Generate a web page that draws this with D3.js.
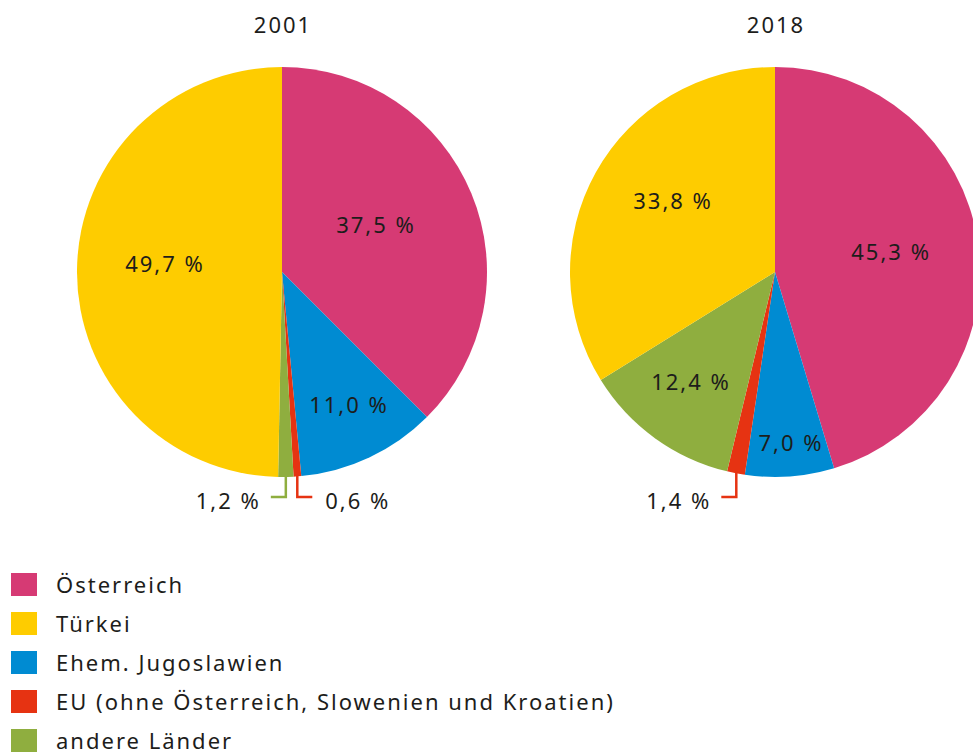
<!DOCTYPE html>
<html lang="de">
<head>
<meta charset="UTF-8">
<script src="https://d3js.org/d3.v7.min.js"></script>
<title>Herkunft 2001 / 2018</title>
<style>
  body { margin: 0; background: #fff; }
  text { font-family: "Noto Sans", sans-serif; fill: #1d1d1b; letter-spacing: 2px; }
</style>
</head>
<body>
<div id="chart"></div>
<script>
// data
const categories = ["Österreich", "Türkei", "Ehem. Jugoslawien",
  "EU (ohne Österreich, Slowenien und Kroatien)", "andere Länder"];
const years = ["2001", "2018"];
const values2001 = [37.5, 49.7, 11.0, 0.6, 1.2];
const values2018 = [45.3, 33.8, 7.0, 1.4, 12.4];
const colors = ["#d63a74", "#fecc00", "#008bd2", "#e63312", "#8fae3f"];

// clockwise order from 12 o'clock
const sliceOrder = [0, 2, 3, 4, 1];

// layout
const width = 973, height = 756;
const radius = 205;
const centers = [[282, 272], [775, 272]];
// inner labels: [fraction of radius, angle in degrees clockwise from top]
const labelPos = {
  "2001": [[0.508, 63.2], [0.577, 273.9], [0.724, 153.6], null, null],
  "2018": [[0.57, 80.1], [0.61, 304.6], [0.837, 175], null, [0.678, 217.7]]
};
// small slices get a leader: -1 = text left, 1 = text right
const leaderSide = {
  "2001": [null, null, null, 1, -1],
  "2018": [null, null, null, -1, null]
};
const leaderY = 497;

const svg = d3.select("#chart").append("svg")
  .attr("width", width).attr("height", height);

const pie = d3.pie().sort(null).value(d => d.value);
const arc = d3.arc().innerRadius(0).outerRadius(radius);
const fmt = v => d3.format(".1f")(v).replace(".", ",") + " %";

[values2001, values2018].forEach((vals, yi) => {
  const year = years[yi];
  const g = svg.append("g")
    .attr("transform", `translate(${centers[yi][0]},${centers[yi][1]})`);

  const rows = sliceOrder.map(i => ({ idx: i, value: vals[i] }));
  const arcs = pie(rows);

  g.selectAll("path").data(arcs).enter().append("path")
    .attr("d", arc)
    .attr("fill", d => colors[d.data.idx]);

  g.append("text")
    .attr("x", 1).attr("y", -radius - 42)
    .attr("dy", "0.35em")
    .attr("text-anchor", "middle")
    .attr("font-size", 22)
    .text(year);

  arcs.forEach(d => {
    const i = d.data.idx;
    const mid = (d.startAngle + d.endAngle) / 2;
    if (labelPos[year][i] != null) {
      const r = radius * labelPos[year][i][0];
      const a = labelPos[year][i][1] * Math.PI / 180;
      g.append("text")
        .attr("x", Math.sin(a) * r + 1)
        .attr("y", -Math.cos(a) * r)
        .attr("dy", "0.35em")
        .attr("text-anchor", "middle")
        .attr("font-size", 22)
        .text(fmt(d.data.value));
    } else if (leaderSide[year][i] != null) {
      const side = leaderSide[year][i];
      const x0 = Math.sin(mid) * (radius - 2);
      const y0 = -Math.cos(mid) * (radius - 2);
      const ly = leaderY - centers[yi][1];
      const x1 = x0 + side * 15;
      g.append("path")
        .attr("d", `M${x0},${y0}V${ly}H${x1}`)
        .attr("fill", "none")
        .attr("stroke", colors[i])
        .attr("stroke-width", 2.5);
      g.append("text")
        .attr("x", x1 + side * (side > 0 ? 13 : 10))
        .attr("y", ly + 4)
        .attr("dy", "0.35em")
        .attr("text-anchor", side < 0 ? "end" : "start")
        .attr("font-size", 22)
        .text(fmt(d.data.value));
    }
  });
});

// legend
const legend = svg.append("g").attr("transform", "translate(11,573)");
const item = legend.selectAll("g").data(categories).enter().append("g")
  .attr("transform", (d, i) => `translate(0,${i * 39})`);
item.append("rect")
  .attr("width", 26).attr("height", 23)
  .attr("fill", (d, i) => colors[i]);
item.append("text")
  .attr("x", 45).attr("y", 12)
  .attr("dy", "0.35em")
  .attr("font-size", 22)
  .text(d => d);
</script>
</body>
</html>
